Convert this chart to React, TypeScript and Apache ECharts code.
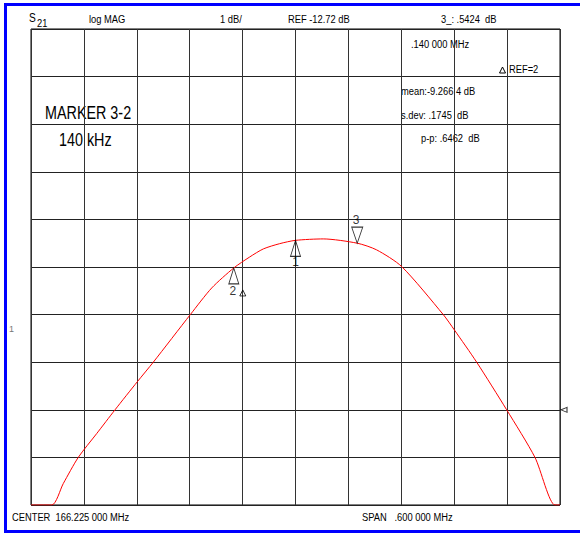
import React, { useEffect, useRef } from "react";
import * as echarts from "echarts";

// Reference level and scale
const REF_DB = -12.72;
const X_TICKS_KHZ = [-300, 300, 60]; // min, max, interval (offset from center)
const Y_DIVS = [-2, 8, 1]; // min, max, interval in dB relative to REF

// Trace (frequency offset from center in kHz, magnitude in dB)
const freqKHz = [-300, -276.5, -263.4, -246.4, -225.5, -204.7, -179.4, -161.3, -119.3, -95, -70, -52, -36.5, -18, 0, 31.5, 70, 92, 120.4, 167.6, 180.1, 205.5, 239.5, 271.6, 294.3, 300];
const magDB = [-14.72, -14.72, -14.27, -13.72, -13.22, -12.72, -12.13, -11.72, -10.72, -10.16, -9.74, -9.51, -9.34, -9.23, -9.16, -9.13, -9.22, -9.36, -9.71, -10.72, -11.04, -11.72, -12.72, -13.72, -14.72, -14.72];

// Markers
const markerNames = ["1", "2", "3"];
const markerFreqKHz = [0, -70, 70];
const markerDB = [-9.16, -9.74, -9.22];

// Annotation texts
const headerTexts = ["log MAG", "1 dB/", "REF -12.72 dB", "3_: .5424  dB"];
const statTexts = [".140 000 MHz", "REF=2", "mean:-9.266 4 dB", "s.dev: .1745  dB", "p-p: .6462  dB"];
const markerTexts = ["MARKER 3-2", "140 kHz"];
const footerTexts = ["CENTER  166.225 000 MHz", "SPAN   .600 000 MHz"];

const FONT = '"Liberation Sans", Arial, sans-serif';

const UP_TRI = "path://M5,0 L10,16 L0,16 Z";
const DOWN_TRI = "path://M0,0 L10,0 L5,16 Z";
const SMALL_TRI = "path://M3,0 L6,6 L0,6 Z";
const LEFT_TRI = "path://M6,0 L0,3 L6,6 Z";

function txt(text: string, x: number, y: number, size: number, sx = 0.85, fill = "#000") {
  return {
    type: "text",
    x,
    y,
    scaleX: sx,
    silent: true,
    style: {
      text,
      font: `${size}px ${FONT}`,
      fill,
      align: "left",
      verticalAlign: "middle",
      textAlign: "left",
      textVerticalAlign: "middle",
    },
  };
}

export default function App() {
  const ref = useRef<HTMLDivElement>(null);
  useEffect(() => {
    if (!ref.current) return;
    const chart = echarts.init(ref.current, null, { renderer: "svg" });
    const trace = freqKHz.map((f, i) => [f, magDB[i] - REF_DB]);
    const mk = markerFreqKHz.map((f, i) => [f, markerDB[i] - REF_DB]);
    const option: any = {
      animation: false,
      backgroundColor: "#fff",
      grid: {
        left: 31,
        top: 29,
        width: 529,
        height: 476,
        show: true,
        borderColor: "#000",
        borderWidth: 1,
        backgroundColor: "transparent",
      },
      xAxis: {
        type: "value",
        min: X_TICKS_KHZ[0],
        max: X_TICKS_KHZ[1],
        interval: X_TICKS_KHZ[2],
        axisLine: { show: false },
        axisTick: { show: false },
        axisLabel: { show: false },
        splitLine: { show: true, lineStyle: { color: "#333", width: 1 } },
      },
      yAxis: {
        type: "value",
        min: Y_DIVS[0],
        max: Y_DIVS[1],
        interval: Y_DIVS[2],
        axisLine: { show: false },
        axisTick: { show: false },
        axisLabel: { show: false },
        splitLine: { show: true, lineStyle: { color: "#222", width: 1 } },
      },
      series: [
        {
          type: "line",
          data: trace,
          smooth: 0.25,
          symbol: "none",
          lineStyle: { color: "#ff0000", width: 1 },
          z: 3,
        },
        {
          type: "scatter",
          clip: false,
          z: 4,
          itemStyle: { color: "rgba(0,0,0,0)", borderColor: "#000", borderWidth: 1 },
          data: [
            { value: mk[0], symbol: UP_TRI, symbolSize: [10, 16], symbolOffset: [0, 8] },
            { value: mk[1], symbol: UP_TRI, symbolSize: [10, 16], symbolOffset: [0, 8] },
            { value: mk[2], symbol: DOWN_TRI, symbolSize: [11, 16], symbolOffset: [0, -8] },
            { value: mk[1], symbol: SMALL_TRI, symbolSize: [6, 6], symbolOffset: [9, 25] },
            { value: [X_TICKS_KHZ[1], 0], symbol: LEFT_TRI, symbolSize: [6, 5], symbolOffset: [4, 0] },
          ],
        },
        {
          type: "scatter",
          clip: false,
          z: 4,
          symbolSize: 1,
          itemStyle: { color: "rgba(0,0,0,0)" },
          label: {
            show: true,
            position: "inside",
            color: "#000",
            fontSize: 12,
            fontFamily: FONT,
            formatter: (p: any) => markerNames[p.dataIndex],
          },
          data: [
            { value: mk[0], label: { offset: [0, 22] } },
            { value: mk[1], label: { offset: [-1, 23] } },
            { value: mk[2], label: { offset: [-1, -23] } },
          ],
        },
      ],
      graphic: [
        {
          type: "rect",
          silent: true,
          shape: { x: 5.5, y: 4.5, width: 620, height: 527 },
          style: { fill: "none", stroke: "#0000ff", lineWidth: 3 },
        },
        txt("S", 29, 18, 12),
        txt("21", 37, 23, 11),
        txt(headerTexts[0], 89, 19, 11),
        txt(headerTexts[1], 220, 19, 11),
        txt(headerTexts[2], 288, 19, 11),
        txt(headerTexts[3], 441, 19, 11),
        txt(statTexts[0], 411, 44, 11),
        {
          type: "polygon",
          silent: true,
          shape: { points: [[502.5, 67], [505.5, 73], [499.5, 73]] },
          style: { fill: "none", stroke: "#000", lineWidth: 1 },
        },
        txt(statTexts[1], 509, 69, 11),
        txt(statTexts[2], 401, 91, 11),
        txt(statTexts[3], 401, 115, 11),
        txt(statTexts[4], 421, 138, 11),
        txt(markerTexts[0], 45, 113, 17.5, 0.82),
        txt(markerTexts[1], 59, 140, 17.5, 0.82),
        txt(footerTexts[0], 12, 517, 11),
        txt(footerTexts[1], 362, 517, 11),
        txt("1", 9, 329, 9, 1, "#777"),
      ],
    };
    chart.setOption(option);
    return () => chart.dispose();
  }, []);
  return (
    <div
      ref={ref}
      style={{ position: "absolute", left: 0, top: 0, width: 580, height: 533, background: "#fff" }}
    />
  );
}
